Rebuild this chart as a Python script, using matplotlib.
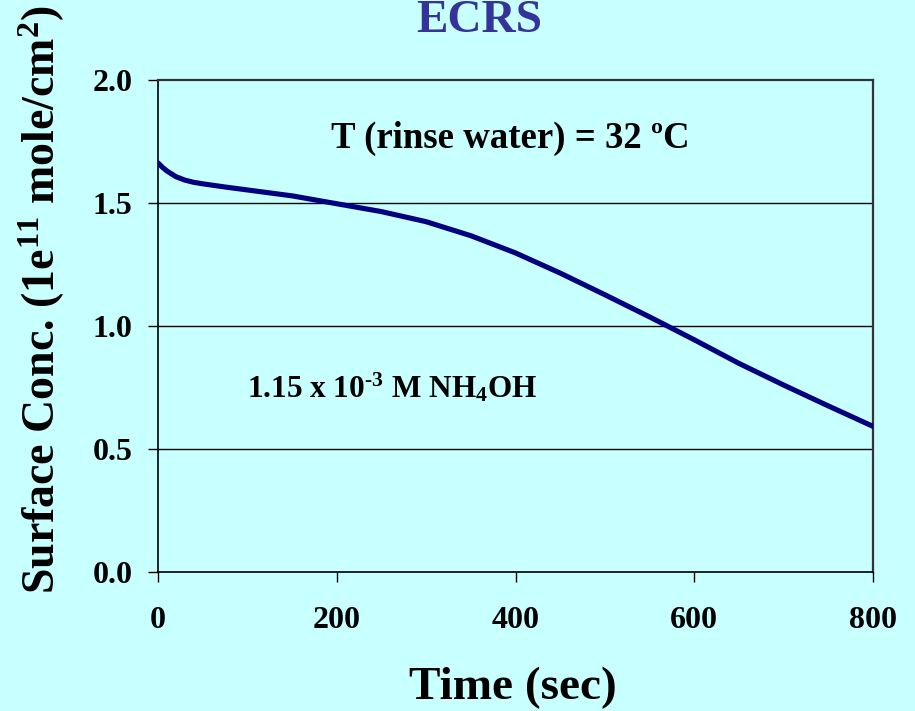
import matplotlib
matplotlib.use("Agg")
import matplotlib.pyplot as plt

plt.rcParams['font.family'] = ['Liberation Serif', 'DejaVu Serif']
plt.rcParams['font.weight'] = 'bold'
plt.rcParams['mathtext.default'] = 'regular'

# surface concentration vs rinse time
time_s = [0, 5, 10, 20, 30, 40, 50, 75, 100, 150, 200, 250, 300, 350,
          400, 450, 500, 550, 600, 650, 700, 750, 800]
conc = [1.663, 1.645, 1.63, 1.607, 1.593, 1.584, 1.578, 1.565, 1.553, 1.529,
        1.497, 1.465, 1.424, 1.367, 1.297, 1.215, 1.127, 1.037, 0.944, 0.848,
        0.76, 0.675, 0.592]

xticks = [0, 200, 400, 600, 800]
yticks = [0.0, 0.5, 1.0, 1.5, 2.0]
ytick_labels = ['0.0', '0.5', '1.0', '1.5', '2.0']

bg = '#C8FFFF'
fig = plt.figure(figsize=(9.15, 7.11), dpi=100, facecolor=bg)
ax = fig.add_axes([0.1727, 0.1955, 0.7814, 0.692], facecolor=bg)

for y in [0.5, 1.0, 1.5]:
    ax.axhline(y, color='black', lw=1.0, zorder=1)

ax.plot(time_s, conc, color='#000080', lw=3.7, solid_capstyle='round',
        solid_joinstyle='round', zorder=3)

ax.set_xlim(0, 800)
ax.set_ylim(0, 2.0)
ax.set_xticks(xticks)
ax.set_yticks(yticks)
ax.set_yticklabels(ytick_labels)
ax.tick_params(axis='x', direction='out', length=7.5, width=1.0, pad=17,
               labelsize=23)
ax.tick_params(axis='y', direction='out', length=7.5, width=1.0, pad=11,
               labelsize=23)

for side in ['left', 'bottom']:
    ax.spines[side].set_color('black')
    ax.spines[side].set_linewidth(1.2)
for side in ['top', 'right']:
    ax.spines[side].set_color('#333333')
    ax.spines[side].set_linewidth(1.6)

ax.text(394, 1.764, 'T (rinse water) = 32 ºC', ha='center', va='center',
        fontsize=26.5, fontweight='bold')
ax.text(100, 0.748, '1.15 x 10$^{\u20103}$ M NH$_{4}$OH', ha='left',
        va='center', fontsize=22.5, fontweight='bold')

fig.text(0.524, 0.970, 'ECRS', ha='center', va='center', fontsize=34,
         fontweight='bold', color='#333399')
fig.text(0.56, 0.032, 'Time (sec)', ha='center', va='center', fontsize=34,
         fontweight='bold')
fig.text(0.046, 0.578, 'Surface Conc. (1e$^{11}$ mole/cm$^{2}$)', ha='center',
         va='center', rotation=90, fontsize=33, fontweight='bold')

fig.savefig('out.png', dpi=100, facecolor=bg)
